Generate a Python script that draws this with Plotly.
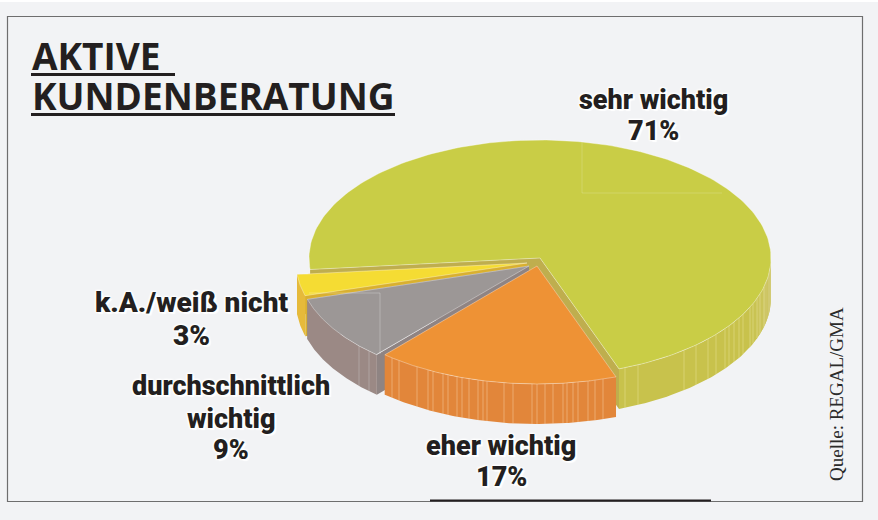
import math
import plotly.graph_objects as go

# data
categories = ["sehr wichtig", "eher wichtig", "durchschnittlich wichtig", "k.A./weiß nicht"]
shares_pct = [71, 17, 9, 3]
label_lines = [["sehr wichtig"], ["eher wichtig"], ["durchschnittlich", "wichtig"], ["k.A./weiß nicht"]]

top_colors = ["#C9CD46", "#EE9235", "#9C9796", "#F5DC33"]
side_colors = ["#C8C24C", "#E2863A", "#9B8985", "#E6BA3A"]
wall_colors = ["#BFAE4E", "#D97F35", "#8F8483", "#D9B030"]

# projection style
RX, RY, DEPTH = 231.0, 118.0, 40.0
CENTER = (540, 258)
OFFSETS = [(0, 0), (-3, 8), (-11, 8), (-13, 5)]
START_DEG = 160.0 - 255.6  # start of first slice, clockwise from up
LABEL_POS = [(653, 100, 131), (501, 446, 477), (231, 386, 450), (191, 302, 335)]
LABEL_SIZE = [27, 27, 27, 28]

# slice angle spans from values
spans = []
a = START_DEG
for s in shares_pct:
    spans.append((a, a + s * 3.6))
    a += s * 3.6


def rim(cx, cy, t):
    r = math.radians(t)
    return cx + RX * math.sin(r), cy - RY * math.cos(r)


def arc(cx, cy, t0, t1, n=100):
    pts = [rim(cx, cy, t0 + (t1 - t0) * i / n) for i in range(n + 1)]
    return [p[0] for p in pts], [p[1] for p in pts]


fig = go.Figure()


def poly(xs, ys, fill, line="rgba(0,0,0,0)", width=0.0):
    fig.add_trace(go.Scatter(x=xs, y=ys, mode="lines", fill="toself", fillcolor=fill,
                             line=dict(color=line, width=width), hoverinfo="skip", showlegend=False))


def stripes(xs, ys, color, width=1.0):
    fig.add_trace(go.Scatter(x=xs, y=ys, mode="lines", line=dict(color=color, width=width),
                             hoverinfo="skip", showlegend=False, connectgaps=False))


def draw_slice(i):
    t0, t1 = spans[i]
    ox, oy = OFFSETS[i]
    cx, cy = CENTER[0] + ox, CENTER[1] + oy
    # inner walls
    for t in (t0, t1):
        px, py = rim(cx, cy, t)
        poly([cx, px, px, cx], [cy, py, py + DEPTH, cy + DEPTH], wall_colors[i])
    # outer wall: front part of rim only
    a0, a1 = t0, t1
    if i == 0:  # wraps through the top: only the front from 90 deg on is visible
        a0, a1 = 90.0, t1
    xs, ys = arc(cx, cy, a0, a1)
    poly(xs + xs[::-1], ys + [y + DEPTH for y in ys[::-1]], side_colors[i])
    if i == 0:  # the wall pales toward the far right end
        for k, col in enumerate(["#D4CC7C", "#D1C971", "#CEC666", "#CBC45A", "#C9C352"]):
            xs, ys = arc(cx, cy, 90 + 5 * k, 95 + 5 * k, 8)
            poly(xs + xs[::-1], ys + [y + DEPTH for y in ys[::-1]], col)
    # top
    xs, ys = arc(cx, cy, t0, t1, 200)
    poly([cx] + xs + [cx], [cy] + ys + [cy], top_colors[i], "rgba(255,255,255,0.45)", 0.8)


# order of painting: back slice first
for i in [0, 3, 2, 1]:
    draw_slice(i)

# vertical facets on walls
ORANGE_FACET_X = [392, 399, 417, 428, 433, 443, 448, 457, 462, 469, 478, 483, 487, 504, 513, 532, 537, 545, 553, 563, 567, 573, 578, 588, 595, 603]
GREEN_FACET_X = [625, 638, 684, 696, 708, 716, 725, 729, 734, 739, 743, 750, 753, 757, 760, 764]
GRAY_FACET_X = [359, 369]
for fx, idx, col in [(ORANGE_FACET_X, 1, "rgba(255,225,190,0.4)"), (GREEN_FACET_X, 0, "rgba(240,238,170,0.4)"), (GRAY_FACET_X, 2, "rgba(230,225,225,0.3)")]:
    cx, cy = CENTER[0] + OFFSETS[idx][0], CENTER[1] + OFFSETS[idx][1]
    xs, ys = [], []
    for x in fx:
        u = (x - cx) / RX
        y = cy + RY * math.sqrt(1 - u * u)
        xs += [x, x, None]
        ys += [y, y + DEPTH, None]
    stripes(xs, ys, col)

# annotations
halo = "2px 2px 1px #ffffff, -1px -1px 2px #ffffff, 1px -1px 2px #ffffff, -1px 1px 2px #ffffff"
annots = []
LINE_Y = {0: [100], 1: [446], 2: [386, 419], 3: [302]}
for i, lines in enumerate(label_lines):
    x, _, pct_y = LABEL_POS[i]
    font = dict(family="Roboto", size=LABEL_SIZE[i], color="#231F20", weight=900, shadow=halo)
    for ln, y in zip(lines, LINE_Y[i]):
        annots.append(dict(x=x, y=y, text=ln, showarrow=False, xref="x", yref="y", font=font, xanchor="center", yanchor="middle"))
    annots.append(dict(x=x, y=pct_y, text=f"{shares_pct[i]}%", showarrow=False, xref="x", yref="y", font=font, xanchor="center", yanchor="middle"))

title_font = dict(family="Open Sans", size=37, color="#231F20", weight=700)
annots.append(dict(x=29.5, y=55, text="AKTIVE", showarrow=False, font=title_font, xanchor="left", yanchor="middle"))
annots.append(dict(x=29.5, y=95, text="KUNDENBERATUNG", showarrow=False, font=title_font, xanchor="left", yanchor="middle"))
annots.append(dict(x=836, y=394, text="Quelle: REGAL/GMA", textangle=-90, showarrow=False,
                   font=dict(family="Liberation Serif", size=19, color="#2B2B2B"), xanchor="center", yanchor="middle"))

shapes = [
    dict(type="rect", x0=0, x1=878, y0=2, y1=520, fillcolor="#F2F3F5", line=dict(width=0), layer="below"),
    dict(type="rect", x0=7.5, x1=862.5, y0=16.5, y1=501.5, fillcolor="rgba(0,0,0,0)", line=dict(color="#6E6E6E", width=1.2), layer="below"),
    dict(type="line", x0=430, x1=711, y0=500.5, y1=500.5, line=dict(color="#231F20", width=2)),
    dict(type="line", x0=31, x1=175, y0=74.5, y1=74.5, line=dict(color="#231F20", width=3)),
    dict(type="line", x0=31, x1=395, y0=114.5, y1=114.5, line=dict(color="#231F20", width=3)),
    # faint print artefacts on the faces
    dict(type="path", path="M582,141 L582,193 L722,193", line=dict(color="rgba(255,255,255,0.18)", width=1)),
    dict(type="path", path="M309,293 L380,293 L380,354", line=dict(color="rgba(255,255,255,0.25)", width=1)),
]

fig.update_layout(
    width=878, height=520, margin=dict(l=0, r=0, t=0, b=0),
    paper_bgcolor="#FFFFFF", plot_bgcolor="rgba(0,0,0,0)", showlegend=False,
    xaxis=dict(range=[0, 878], visible=False, fixedrange=True),
    yaxis=dict(range=[520, 0], visible=False, fixedrange=True),
    shapes=shapes, annotations=annots,
)
fig.write_html("out.html", config={"displayModeBar": False},
               post_script="document.body.style.margin='0';")
